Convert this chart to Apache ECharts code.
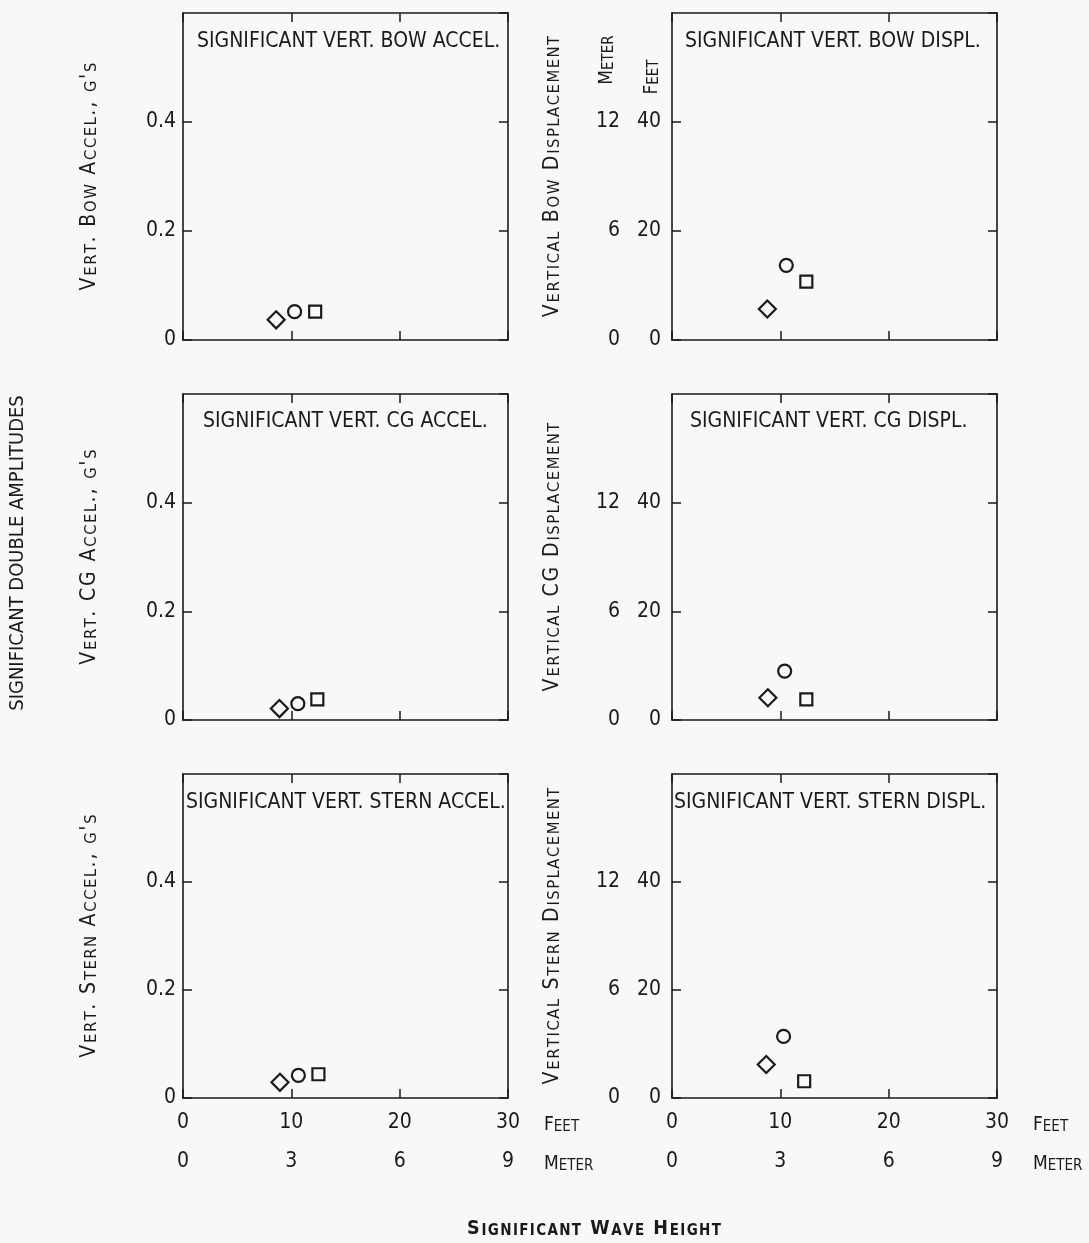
<!DOCTYPE html>
<html><head><meta charset="utf-8">
<script src="https://cdn.jsdelivr.net/npm/echarts@6/dist/echarts.min.js"></script>
<style>html,body{margin:0;padding:0;background:#f8f8f6}#c{width:1089px;height:1243px}</style>
</head><body><div id="c"></div>
<script>
// ---------- data ----------
const markerShapes = ['diamond', 'circle', 'rect'];
const markerSizes = [17, 13, 12];

const panelTitles = ['SIGNIFICANT VERT. BOW ACCEL.', 'SIGNIFICANT VERT. BOW DISPL.',
  'SIGNIFICANT VERT. CG ACCEL.', 'SIGNIFICANT VERT. CG DISPL.',
  'SIGNIFICANT VERT. STERN ACCEL.', 'SIGNIFICANT VERT. STERN DISPL.'];
const yAxisNames = ["Vert. Bow Accel., g's", 'Vertical Bow Displacement',
  "Vert. CG Accel., g's", 'Vertical CG Displacement',
  "Vert. Stern Accel., g's", 'Vertical Stern Displacement'];
const xUnitNames = ['Feet', 'Meter'];

// wave height (feet) and response values: diamond, circle, square
const bowAccelX = [8.6, 10.3, 12.2];
const bowAccelY = [0.037, 0.052, 0.052];
const bowDisplX = [8.8, 10.55, 12.4];
const bowDisplY = [5.7, 13.7, 10.7];
const cgAccelX = [8.9, 10.6, 12.4];
const cgAccelY = [0.021, 0.030, 0.038];
const cgDisplX = [8.85, 10.4, 12.4];
const cgDisplY = [4.1, 9.0, 3.8];
const sternAccelX = [8.95, 10.65, 12.5];
const sternAccelY = [0.029, 0.042, 0.044];
const sternDisplX = [8.7, 10.3, 12.2];
const sternDisplY = [6.2, 11.4, 3.1];

const waveFeetMax = 30, waveFeetStep = 10;
const waveMeterMax = 9, waveMeterStep = 3;
const accelMax = 0.6, accelStep = 0.2;
const displFeetMax = 60, displFeetStep = 20;
const displMeterMax = 18, displMeterStep = 6;

// ---------- styling ----------
const FONT = '"Liberation Sans Narrow","DejaVu Sans Condensed","Roboto Condensed","Noto Sans",sans-serif';
const INK = '#1a1a1a';
const BG = '#f8f8f6';
const HAIR = '\u200A';

function sc(s, spaced) {
  let out = '', cur = null, buf = '';
  const chars = Array.from(s);
  chars.forEach((ch, idx) => {
    const st = (ch !== ch.toUpperCase()) ? 's' : 'b';
    if (st !== cur) { if (buf) out += '{' + cur + '|' + buf + '}'; buf = ''; cur = st; }
    buf += ch.toUpperCase();
    if (spaced && idx < chars.length - 1) buf += HAIR;
  });
  if (buf) out += '{' + cur + '|' + buf + '}';
  return out;
}
function scRich(big, small, weight) {
  return {
    b: { fontSize: big, fontFamily: FONT, color: INK, fontWeight: weight || 'normal', verticalAlign: 'bottom', lineHeight: big + 2 },
    s: { fontSize: small, fontFamily: FONT, color: INK, fontWeight: weight || 'normal', verticalAlign: 'bottom', lineHeight: big + 2 }
  };
}

const panels = [
  { kind: 'accel', x: bowAccelX, y: bowAccelY },
  { kind: 'displ', x: bowDisplX, y: bowDisplY },
  { kind: 'accel', x: cgAccelX, y: cgAccelY },
  { kind: 'displ', x: cgDisplX, y: cgDisplY },
  { kind: 'accel', x: sternAccelX, y: sternAccelY },
  { kind: 'displ', x: sternDisplX, y: sternDisplY }
];

const gridLeft = [183, 672];
const gridTop = [13, 394, 774];
const gridH = [327, 326, 324];
const gridW = 325;
const titleLeft = [197, 685, 203, 690, 186, 674];
const titleY = [42, 42, 422, 422, 803, 803];

const lineStyle = { color: INK, width: 1.6 };
const tickStyle = { show: true, inside: true, length: 9, lineStyle: { color: INK, width: 1.5 } };
const labelStyle = { color: INK, fontSize: 21, fontFamily: FONT };

const grids = [], xAxes = [], yAxes = [], series = [], graphics = [];

panels.forEach((p, i) => {
  const row = Math.floor(i / 2), col = i % 2;
  grids.push({ left: gridLeft[col], top: gridTop[row], width: gridW, height: gridH[row] });
  const isBottom = row === 2;
  const xi = xAxes.length;
  xAxes.push({
    gridIndex: i, type: 'value', min: 0, max: waveFeetMax, interval: waveFeetStep, position: 'bottom',
    axisLine: { show: true, onZero: false, lineStyle }, axisTick: tickStyle, splitLine: { show: false },
    axisLabel: Object.assign({ show: isBottom, margin: 14 }, labelStyle)
  });
  xAxes.push({
    gridIndex: i, type: 'value', min: 0, max: waveFeetMax, interval: waveFeetStep, position: 'top',
    axisLine: { show: true, onZero: false, lineStyle }, axisTick: tickStyle, splitLine: { show: false },
    axisLabel: { show: false }
  });
  if (isBottom) {
    xAxes.push({
      gridIndex: i, type: 'value', min: 0, max: waveMeterMax, interval: waveMeterStep, position: 'bottom', offset: 39,
      axisLine: { show: false }, axisTick: { show: false }, splitLine: { show: false },
      axisLabel: Object.assign({ show: true, margin: 14 }, labelStyle)
    });
    // unit names to the right of the bottom axes
    xUnitNames.forEach((u, k) => {
      graphics.push({ type: 'text', x: gridLeft[col] + gridW + 36, y: k === 0 ? 1124 : 1163, silent: true,
        style: { text: sc(u), rich: scRich(19, 15), textAlign: 'left', textVerticalAlign: 'middle', fill: INK } });
    });
  }
  const yi = yAxes.length;
  if (p.kind === 'accel') {
    yAxes.push({
      gridIndex: i, type: 'value', min: 0, max: accelMax, interval: accelStep, position: 'left',
      axisLine: { show: true, onZero: false, lineStyle }, axisTick: tickStyle, splitLine: { show: false },
      axisLabel: Object.assign({ margin: 7, showMaxLabel: false, formatter: v => v === 0 ? '0' : v.toFixed(1) }, labelStyle),
      name: sc(yAxisNames[i], true), nameLocation: 'middle', nameGap: 83, nameRotate: 90,
      nameTextStyle: { rich: scRich(21, 16.5) }
    });
  } else {
    yAxes.push({
      gridIndex: i, type: 'value', min: 0, max: displFeetMax, interval: displFeetStep, position: 'left',
      axisLine: { show: true, onZero: false, lineStyle }, axisTick: tickStyle, splitLine: { show: false },
      axisLabel: Object.assign({ margin: 11, showMaxLabel: false }, labelStyle),
      name: sc(yAxisNames[i], true), nameLocation: 'middle', nameGap: 109, nameRotate: 90,
      nameTextStyle: { rich: scRich(21, 16.5) }
    });
    yAxes.push({
      gridIndex: i, type: 'value', min: 0, max: displMeterMax, interval: displMeterStep, position: 'left', offset: 42,
      axisLine: { show: false }, axisTick: { show: false }, splitLine: { show: false },
      axisLabel: Object.assign({ margin: 10, showMaxLabel: false }, labelStyle)
    });
  }
  yAxes.push({
    gridIndex: i, type: 'value', min: 0, max: p.kind === 'accel' ? accelMax : displFeetMax,
    interval: p.kind === 'accel' ? accelStep : displFeetStep, position: 'right',
    axisLine: { show: true, onZero: false, lineStyle }, axisTick: tickStyle, splitLine: { show: false },
    axisLabel: { show: false }
  });
  markerShapes.forEach((shape, k) => {
    series.push({
      type: 'scatter', xAxisIndex: xi, yAxisIndex: yi, symbol: shape, symbolSize: markerSizes[k],
      data: [[p.x[k], p.y[k]]], silent: true, z: 5,
      itemStyle: { color: BG, borderColor: INK, borderWidth: 2.2, opacity: 1 }
    });
  });
  graphics.push({
    type: 'text', x: titleLeft[i], y: titleY[i], silent: true,
    style: { text: panelTitles[i], fill: INK, font: '21px ' + FONT, textAlign: 'left', textVerticalAlign: 'middle' }
  });
});

// unit headers on the top-right panel
graphics.push({ type: 'text', x: 606, y: 60, rotation: Math.PI / 2, silent: true,
  style: { text: sc('Meter'), rich: scRich(19, 15), textAlign: 'center', textVerticalAlign: 'middle', fill: INK } });
graphics.push({ type: 'text', x: 651, y: 77, rotation: Math.PI / 2, silent: true,
  style: { text: sc('Feet'), rich: scRich(19, 15), textAlign: 'center', textVerticalAlign: 'middle', fill: INK } });
// global labels
graphics.push({ type: 'text', x: 18, y: 553, rotation: Math.PI / 2, silent: true,
  style: { text: 'SIGNIFICANT DOUBLE AMPLITUDES', font: '20px ' + FONT, textAlign: 'center', textVerticalAlign: 'middle', fill: INK } });
graphics.push({ type: 'text', x: 594, y: 1228, silent: true,
  style: { text: sc('Significant Wave Height', true), rich: scRich(19.5, 15, 'bold'), textAlign: 'center', textVerticalAlign: 'middle', fill: INK } });

const chart = echarts.init(document.getElementById('c'), null, { renderer: 'canvas' });
chart.setOption({
  backgroundColor: BG,
  animation: false,
  grid: grids,
  xAxis: xAxes,
  yAxis: yAxes,
  series: series,
  graphic: graphics
});
</script>
</body></html>
